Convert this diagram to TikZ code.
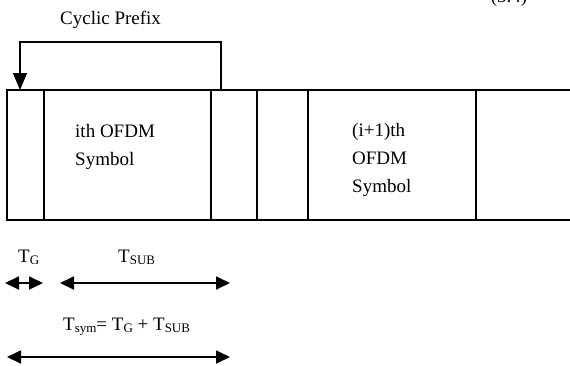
\documentclass[tikz,border=0pt]{standalone}
\usepackage{fontspec}
\setmainfont{Liberation Serif}
\usetikzlibrary{arrows.meta}
\newcommand\sbt[1]{\raisebox{-0.3ex}{\fontsize{13}{13}\selectfont #1}}
\begin{document}
\begin{tikzpicture}[x=1pt,y=-1pt,
  lw/.style={line width=1.4pt},
  txt/.style={font=\fontsize{19}{28}\selectfont, inner sep=0pt, align=left},
  dbl/.style={line width=1.8pt,{Triangle[length=14pt,width=13pt]}-{Triangle[length=14pt,width=13pt]}}]
\useasboundingbox (0,0) rectangle (570,365);
% frame open on the right
\draw[lw] (570,90) -- (7,90) -- (7,220) -- (570,220);
\foreach \x in {44,211,257,308,476} \draw[lw] (\x,90) -- (\x,220);
\coordinate (src) at (221,90);
\coordinate (dst) at (20,90);
\draw[lw,-{Triangle[length=17pt,width=14pt]}] (src) -- (221,42) -- (20,42) -- (dst);
\node[txt,anchor=base west] (cp) at (60,24) {Cyclic Prefix};
\node[txt,anchor=base] (eq) at (509,2) {(3.4)};
\node[txt,anchor=base west] (s1) at (75,165) {ith OFDM\\Symbol};
\node[txt,anchor=base west] (s2) at (352,192) {(i+1)th\\OFDM\\Symbol};
\begin{scope}
\clip (0,0) rectangle (570,263);
\node[txt,anchor=base west] (tg) at (18,262) {T\sbt{G}};
\node[txt,anchor=base west] (tsub) at (118,262) {T\sbt{SUB}};
\end{scope}
\coordinate (a1) at (5,283); \coordinate (b1) at (43,283);
\draw[dbl] (a1) -- (b1);
\coordinate (a2) at (60,283); \coordinate (b2) at (230,283);
\draw[dbl] (a2) -- (b2);
\node[txt,anchor=base west] (tsym) at (63,330) {T\sbt{sym}= T\sbt{G} + T\sbt{SUB}};
\coordinate (a3) at (7,357); \coordinate (b3) at (230,357);
\draw[dbl] (a3) -- (b3);
\end{tikzpicture}
\end{document}
